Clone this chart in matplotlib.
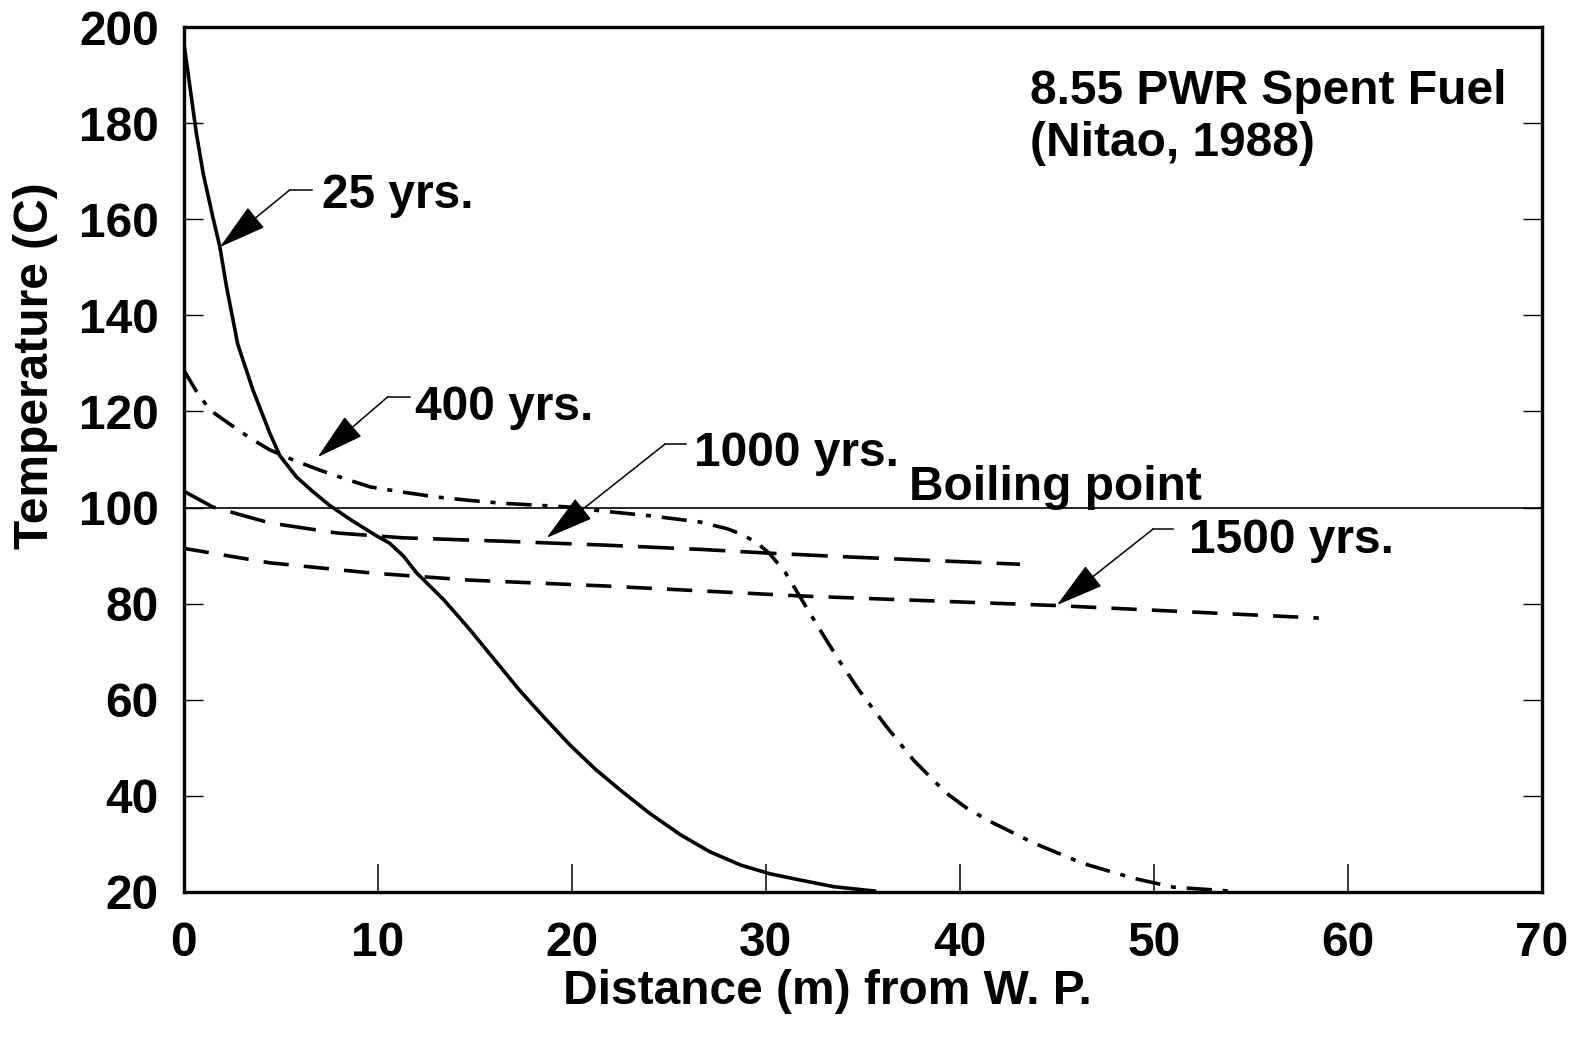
import matplotlib
matplotlib.use("Agg")
import matplotlib.pyplot as plt

plt.rcParams['font.family'] = ['Liberation Sans', 'DejaVu Sans']
plt.rcParams['font.weight'] = 'bold'

# curve readings: distance (m) vs temperature (C)
x_25 = [0, 0.3, 0.65, 1.0, 1.5, 1.86, 2.2, 2.78, 3.56, 4.43, 4.95, 5.8, 6.6, 7.5, 8.7, 9.9,
        10.6, 11.3, 12.0, 13.4, 14.7, 16.0, 17.3, 18.6, 19.9, 21.2, 22.5, 24.0, 25.6, 27.1,
        28.7, 30.2, 31.75, 33.5, 35.6]
t_25 = [196.8, 188.0, 177.8, 169.5, 160.4, 154.2, 146.0, 134.0, 124.5, 115.5, 110.8, 106.4, 103.5, 100.5, 97.2, 94.2,
        92.6, 90.0, 86.4, 80.8, 74.8, 68.4, 62.0, 56.2, 50.6, 45.6, 41.2, 36.4, 31.9, 28.4,
        25.6, 23.8, 22.5, 21.1, 20.2]

x_400 = [0, 0.6, 1.34, 2.5, 3.4, 4.43, 5.7, 7.0, 8.3, 9.6, 11.3, 13.0, 14.7, 16.4, 19.9, 21.5,
         24.0, 26.6, 28.0, 28.7, 29.5, 30.2, 31.0, 31.75, 32.8, 33.8, 34.8, 36.2, 37.6, 38.5,
         39.3, 40.3, 41.4, 43.8, 46.3, 48.9, 51.0, 53.9]
t_400 = [128.6, 124.5, 120.3, 117.0, 114.5, 112.0, 109.8, 107.8, 106.0, 104.3, 103.2, 102.2, 101.5, 100.9, 100.1, 99.3,
         98.3, 97.0, 95.6, 94.5, 92.8, 90.4, 86.5, 81.5, 74.5, 68.0, 62.0, 54.5, 47.5, 43.8,
         40.6, 37.6, 35.0, 30.2, 26.0, 22.9, 21.0, 20.2]

x_1000 = [0, 1.5, 4.43, 7.9, 11.3, 16.4, 21.6, 26.6, 30.2, 34.4, 43.1]
t_1000 = [103.4, 100.1, 96.8, 94.7, 93.7, 93.0, 92.2, 91.3, 90.5, 89.7, 88.2]

x_1500 = [0, 4.43, 9.6, 14.7, 21.6, 31.8, 45.0, 58.5]
t_1500 = [91.5, 88.5, 86.4, 84.9, 83.7, 81.6, 79.6, 77.0]

boiling_point = 100

labels = ["25 yrs.", "400 yrs.", "1000 yrs.", "1500 yrs."]
label_xy = [(7.1, 164.9), (11.9, 120.9), (26.3, 111.2), (51.8, 93.1)]
leader_x = [(6.6, 5.46), (11.65, 10.5), (25.9, 24.8), (51.0, 49.95)]
leader_y = [166.1, 123.0, 113.2, 95.5]
arrow_tip = [(1.86, 154.2), (6.9, 110.5), (18.7, 93.7), (45.0, 79.7)]

fig = plt.figure(figsize=(15.71, 10.39), dpi=100)
ax = fig.add_axes([0.117, 0.1415, 0.8645, 0.8325])

lw = 2.6
ax.plot(x_25, t_25, color='black', lw=lw, solid_joinstyle='round')
ax.plot(x_400, t_400, color='black', lw=lw, linestyle=(0, (7, 3, 1.4, 3)))
ax.plot(x_1000, t_1000, color='black', lw=lw, linestyle=(0, (10, 4.2)))
ax.plot(x_1500, t_1500, color='black', lw=lw, linestyle=(0, (7, 4.2)))
ax.axhline(boiling_point, color='black', lw=1.2)

fs = 34.5
for lab, (tx, ty), (lx0, lx1), ly, tip in zip(labels, label_xy, leader_x, leader_y, arrow_tip):
    ax.text(tx, ty, lab, fontsize=fs, fontweight='bold', ha='left', va='center')
    ax.plot([lx0, lx1], [ly, ly], color='black', lw=1.1)
    ax.annotate('', xy=tip, xytext=(lx1, ly),
                arrowprops=dict(arrowstyle='-|>,head_length=1.1,head_width=0.3',
                                mutation_scale=28, color='black', lw=1.1,
                                shrinkA=0, shrinkB=0))

ax.text(37.4, 101.6, "Boiling point", fontsize=fs, fontweight='bold', ha='left', va='baseline')
ax.text(43.6, 186.6, "8.55 PWR Spent Fuel", fontsize=fs, fontweight='bold', ha='left', va='center')
ax.text(43.6, 175.8, "(Nitao, 1988)", fontsize=fs, fontweight='bold', ha='left', va='center')

ax.set_xlim(0, 70)
ax.set_ylim(20, 200)
ax.set_xticks(range(0, 71, 10))
ax.set_yticks(range(20, 201, 20))
ax.tick_params(axis='x', direction='in', length=20, width=1.1, pad=21, labelsize=fs)
ax.tick_params(axis='y', direction='in', length=14, width=1.0, pad=18, labelsize=fs,
               left=True, right=True)
for s in ax.spines.values():
    s.set_linewidth(2.4)

ax.set_xlabel("Distance (m) from W. P.", fontsize=fs, fontweight='bold')
ax.set_ylabel("Temperature (C)", fontsize=fs, fontweight='bold')
ax.xaxis.set_label_coords(0.4735, -0.089)
ax.yaxis.set_label_coords(-0.093, 0.609)

fig.savefig("out.png", dpi=100)
